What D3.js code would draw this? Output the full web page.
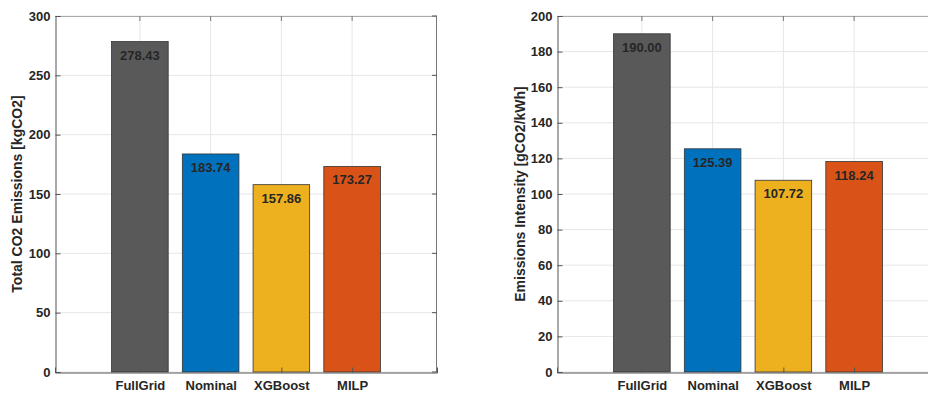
<!DOCTYPE html>
<html><head><meta charset="utf-8">
<script src="https://cdn.jsdelivr.net/npm/d3@7"></script>
<style>
html,body{margin:0;padding:0;background:#fff;overflow:hidden}
text{font-family:"Liberation Sans",Arial,sans-serif;font-weight:bold;}
</style></head>
<body><svg id="c" width="928" height="394"></svg>
<script>
const categories = ["FullGrid","Nominal","XGBoost","MILP"];
const colors = ["#595959","#0072BD","#EDB120","#D95319"];
const totalEmissions = [278.43,183.74,157.86,173.27];
const intensity = [190.00,125.39,107.72,118.24];
const leftTicks = [0,50,100,150,200,250,300];
const rightTicks = [0,20,40,60,80,100,120,140,160,180,200];

const svg = d3.select("#c");

function panel(x0, values, yMax, ticks, title, titleX){
  const w = 382, top = 16, bottom = 372;
  const x = d3.scaleLinear().domain([-0.2,5.2]).range([x0, x0+w]);
  const y = d3.scaleLinear().domain([0,yMax]).range([bottom, top]);
  const g = svg.append("g");
  // grid
  g.selectAll(".gy").data(ticks).enter().append("line")
    .attr("x1",x0).attr("x2",x0+w).attr("y1",d=>y(d)).attr("y2",d=>y(d))
    .attr("stroke","#e6e6e6").attr("stroke-width",1);
  g.selectAll(".gx").data(categories).enter().append("line")
    .attr("x1",(d,i)=>x(i+1)).attr("x2",(d,i)=>x(i+1)).attr("y1",top).attr("y2",bottom)
    .attr("stroke","#e6e6e6").attr("stroke-width",1);
  // bars
  const bw = x(0.8)-x(0);
  g.selectAll(".bar").data(values).enter().append("rect")
    .attr("x",(d,i)=>x(i+1)-bw/2).attr("width",bw)
    .attr("y",d=>y(d)).attr("height",d=>bottom-y(d))
    .attr("fill",(d,i)=>colors[i]).attr("stroke","#333").attr("stroke-width",0.8);
  // value labels
  g.selectAll(".vl").data(values).enter().append("text")
    .attr("x",(d,i)=>x(i+1)).attr("y",d=>y(d)+18)
    .attr("text-anchor","middle").attr("font-size",13).attr("fill","#262626")
    .text(d=>d.toFixed(2));
  // box
  g.append("line").attr("x1",x0).attr("x2",x0+w).attr("y1",top+0.5).attr("y2",top+0.5).attr("stroke","#aaa");
  g.append("line").attr("x1",x0+w-0.5).attr("x2",x0+w-0.5).attr("y1",top).attr("y2",bottom).attr("stroke","#777");
  // axes
  const ya = d3.axisLeft(y).tickValues(ticks).tickSize(-5).tickPadding(5).tickFormat(d3.format("d"));
  const yg = g.append("g").attr("transform",`translate(${x0+0.5},0)`).call(ya);
  yg.select(".domain").attr("stroke","#555");
  yg.selectAll(".tick line").attr("stroke","#555");
  yg.selectAll("text").attr("font-size",13).attr("fill","#262626");
  // right ticks
  g.selectAll(".rt").data(ticks).enter().append("line")
    .attr("x1",x0+w).attr("x2",x0+w-5).attr("y1",d=>y(d)).attr("y2",d=>y(d)).attr("stroke","#555");
  const xa = d3.axisBottom(x).tickValues([1,2,3,4]).tickSize(-5).tickPadding(8)
    .tickFormat((d)=>categories[d-1]);
  const xg = g.append("g").attr("transform",`translate(0,${bottom+0.5})`).call(xa);
  xg.select(".domain").attr("stroke","#555");
  xg.selectAll(".tick line").attr("stroke","#555");
  xg.selectAll("text").attr("font-size",13).attr("fill","#262626");
  // top ticks
  g.selectAll(".tt").data(categories).enter().append("line")
    .attr("x1",(d,i)=>x(i+1)).attr("x2",(d,i)=>x(i+1)).attr("y1",top).attr("y2",top+5).attr("stroke","#777");
  // title
  g.append("text").attr("transform",`translate(${titleX},${(top+bottom)/2}) rotate(-90)`)
    .attr("text-anchor","middle").attr("font-size",14).attr("fill","#262626").text(title);
}
panel(55, totalEmissions, 300, leftTicks, "Total CO2 Emissions [kgCO2]", 22);
panel(557, intensity, 200, rightTicks, "Emissions Intensity [gCO2/kWh]", 525);
</script></body></html>
